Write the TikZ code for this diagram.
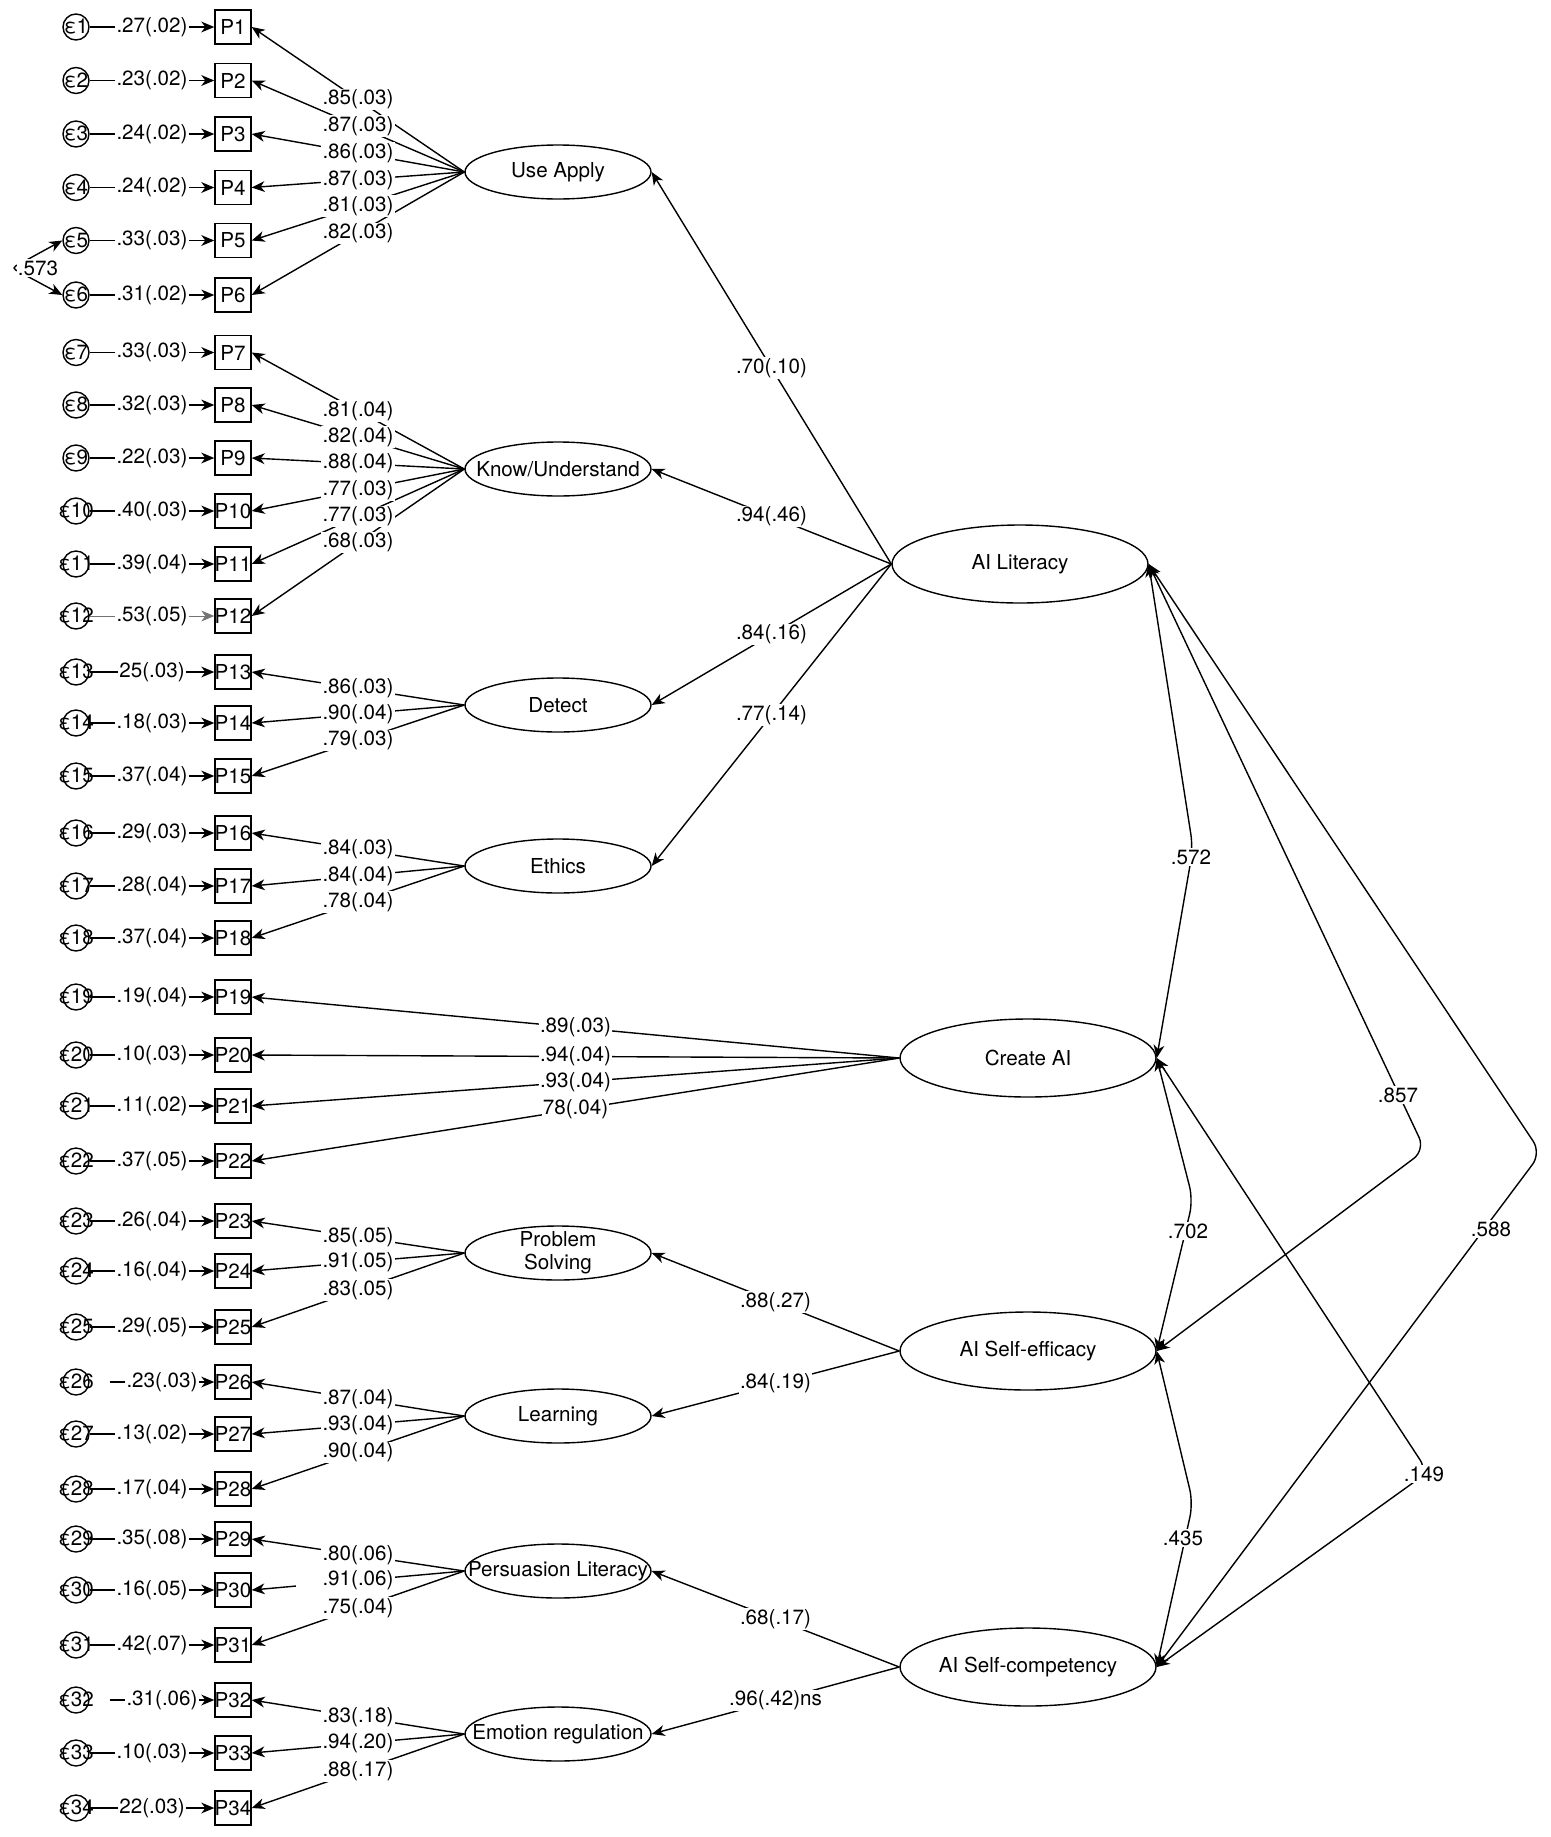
\documentclass[tikz,border=0pt]{standalone}
\usepackage{fontspec}
\setmainfont{TeX Gyre Heros}
\usetikzlibrary{arrows.meta,calc,shapes.geometric}
\begin{document}
\begin{tikzpicture}[x=0.5pt,y=-0.5pt,
  font=\fontsize{10.3}{12}\selectfont,
  lw/.style={line width=0.7pt},
  tip/.style={-{Stealth[length=6.5pt,width=5.4pt,inset=2pt]}},
  dtip/.style={{Stealth[length=6.5pt,width=5.4pt,inset=2pt]}-{Stealth[length=6.5pt,width=5.4pt,inset=2pt]}},
  obs/.style={draw,lw,rectangle,minimum width=18pt,minimum height=17pt,inner sep=0pt},
  err/.style={draw,lw,circle,minimum size=13pt,inner sep=0pt},
  lat/.style={draw,lw,ellipse,minimum width=93pt,minimum height=27pt,inner sep=0pt},
  big/.style={draw,lw,ellipse,minimum width=128pt,minimum height=39pt,inner sep=0pt},
  lab/.style={fill=white,inner sep=0.6pt},
  cov/.style={lw,dtip,rounded corners=7pt},
]
\useasboundingbox (0,0) rectangle (1551,1837);

% observed variables and error terms
\foreach \i/\y in {1/27,2/80.5,3/134,4/187.5,5/240.5,6/295,7/352.5,8/405,9/458,10/511,11/564,12/616,13/672,14/723,15/776,16/833,17/886,18/938,19/997,20/1055,21/1106,22/1161,23/1221,24/1271,25/1327,26/1382,27/1434,28/1489,29/1539,30/1590,31/1645,32/1700,33/1753,34/1808}{
  \node[obs] (P\i) at (233,\y) {\makebox[0pt]{P\i}};
  \node[err] (E\i) at (76,\y) {\makebox[0pt]{ε\i}};
}

% first-order factors
\node[lat] (UA) at (558,172) {\makebox[0pt]{Use Apply}};
\node[lat] (KU) at (558,469) {\makebox[0pt]{Know/Understand}};
\node[lat] (DT) at (558,705) {\makebox[0pt]{Detect}};
\node[lat] (ET) at (558,866) {\makebox[0pt]{Ethics}};
\node[lat] (PS) at (558,1253) {\makebox[0pt]{\raisebox{-0.25em}[0pt][0pt]{\begin{tabular}{@{}c@{}}Problem\\[-0.5pt]Solving\end{tabular}}}};
\node[lat] (LE) at (558,1416) {\makebox[0pt]{Learning}};
\node[lat] (PL) at (558,1571) {\makebox[0pt]{Persuasion Literacy}};
\node[lat] (ER) at (558,1734) {\makebox[0pt]{Emotion regulation}};

% second-order factors
\node[big] (AIL) at (1020,564) {\makebox[0pt]{AI Literacy}};
\node[big] (CAI) at (1028,1058) {\makebox[0pt]{Create AI}};
\node[big] (ASE) at (1028,1351) {\makebox[0pt]{AI Self-efficacy}};
\node[big] (ASC) at (1028,1667) {\makebox[0pt]{AI Self-competency}};

% error paths
\foreach \i/\t in {1/.27(.02),2/.23(.02),3/.24(.02),4/.24(.02),5/.33(.03),6/.31(.02),7/.33(.03),8/.32(.03),9/.22(.03),10/.40(.03),11/.39(.04),13/25(.03),14/.18(.03),15/.37(.04),16/.29(.03),17/.28(.04),18/.37(.04),19/.19(.04),20/.10(.03),21/.11(.02),22/.37(.05),23/.26(.04),24/.16(.04),25/.29(.05),27/.13(.02),28/.17(.04),29/.35(.08),30/.16(.05),31/.42(.07),33/.10(.03),34/22(.03)}{
  \draw[lw,tip] (E\i) -- (P\i) node[lab,midway] (el\i) {\t};
}
\draw[line width=0.35pt,draw=black!55,tip] (E12) -- (P12) node[lab,midway] (el12) {.53(.05)};
\draw[lw,tip] ([xshift=10pt]E26.east) -- (P26) node[lab,midway] (el26) {.23(.03)};
\draw[lw,tip] ([xshift=10pt]E32.east) -- (P32) node[lab,midway] (el32) {.31(.06)};

% loading lines
\foreach \f/\i in {UA/1,UA/2,UA/3,UA/4,UA/5,UA/6,KU/7,KU/8,KU/9,KU/10,KU/11,KU/12,DT/13,DT/14,DT/15,ET/16,ET/17,ET/18,CAI/19,CAI/20,CAI/21,CAI/22,PS/23,PS/24,PS/25,LE/26,LE/27,LE/28,PL/29,PL/30,PL/31,ER/32,ER/33,ER/34}{
  \draw[lw,tip] (\f.west) -- (P\i.east);
}
\fill[white] (296,1578) rectangle (326,1593);

% second-order paths
\foreach \a/\b in {AIL/UA,AIL/KU,AIL/DT,AIL/ET,ASE/PS,ASE/LE,ASC/PL,ASC/ER}{
  \draw[lw,tip] (\a.west) -- (\b.east);
}

% covariances
\coordinate (k0) at (12,268);
\coordinate (k1) at (1193,848);
\coordinate (k2) at (1425,1150);
\coordinate (k3) at (1541,1153);
\coordinate (k4) at (1193,1200);
\coordinate (k5) at (1428,1472);
\coordinate (k6) at (1193,1503);
\draw[lw,dtip,rounded corners=2pt] (E5.west) -- (k0) -- (E6.west);
\draw[cov] (AIL.east) -- (k1) -- (CAI.east);
\draw[cov] (AIL.east) -- (k2) -- (ASE.east);
\draw[cov] (AIL.east) -- (k3) -- (ASC.east);
\draw[cov] (CAI.east) -- (k4) -- (ASE.east);
\draw[cov] (CAI.east) -- (k5) -- (ASC.east);
\draw[cov] (ASE.east) -- (k6) -- (ASC.east);

% loading labels
\foreach \f/\i/\t in {UA/1/.85(.03),UA/2/.87(.03),UA/3/.86(.03),UA/4/.87(.03),UA/5/.81(.03),UA/6/.82(.03),KU/7/.81(.04),KU/8/.82(.04),KU/9/.88(.04),KU/10/.77(.03),KU/11/.77(.03),KU/12/.68(.03),DT/13/.86(.03),DT/14/.90(.04),DT/15/.79(.03),ET/16/.84(.03),ET/17/.84(.04),ET/18/.78(.04),CAI/19/.89(.03),CAI/20/.94(.04),CAI/21/.93(.04),CAI/22/78(.04),PS/23/.85(.05),PS/24/.91(.05),PS/25/.83(.05),LE/26/.87(.04),LE/27/.93(.04),LE/28/.90(.04),PL/29/.80(.06),PL/30/.91(.06),PL/31/.75(.04),ER/32/.83(.18),ER/33/.94(.20),ER/34/.88(.17)}{
  \path (\f.west) -- (P\i.east) node[lab,midway] (ll\i) {\t};
}

% second-order labels
\foreach \a/\b/\t in {AIL/UA/.70(.10),AIL/KU/.94(.46),AIL/DT/.84(.16),AIL/ET/.77(.14),ASE/PS/.88(.27),ASE/LE/.84(.19),ASC/PL/.68(.17),ASC/ER/.96(.42)ns}{
  \path (\a.west) -- (\b.east) node[lab,midway] (sl\b) {\t};
}

% covariance labels
\node[lab] (c0) at (38,268) {.573};
\node[lab] (c1) at (1191,857) {.572};
\node[lab] (c2) at (1398,1095) {.857};
\node[lab] (c3) at (1491,1229) {.588};
\node[lab] (c4) at (1188,1231) {.702};
\node[lab] (c5) at (1424,1474) {.149};
\node[lab] (c6) at (1183,1538) {.435};
\end{tikzpicture}
\end{document}
